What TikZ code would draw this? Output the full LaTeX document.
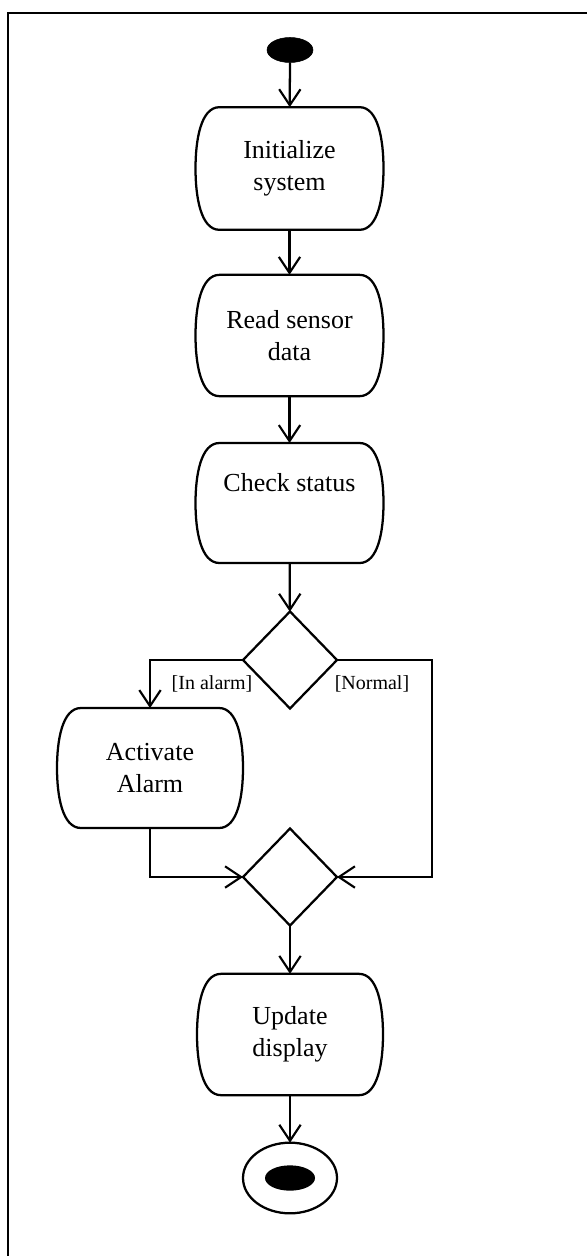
\documentclass[tikz,border=0pt]{standalone}
\usepackage{fontspec}
\setmainfont{Liberation Serif}
\usetikzlibrary{shapes.geometric,arrows.meta,calc}
\begin{document}
\begin{tikzpicture}[x=0.75pt,y=-0.75pt,
  lw/.style={line width=1.7pt},
  boxline/.style={lw, line join=round},
  actbox/.style={rectangle, draw=none, outer sep=0pt, inner sep=0pt, minimum width=141pt, minimum height=90pt, align=center, font=\fontsize{19.5}{24}\selectfont},
  decision/.style={diamond, draw, lw, inner sep=0pt, outer sep=0pt, minimum width=70.5pt, minimum height=72.75pt},
  flow/.style={lw, -{Straight Barb[length=12pt,width=16pt,line width=1.6pt]}},
  guard/.style={font=\fontsize{15}{18}\selectfont, inner sep=0pt}]
\useasboundingbox (0,0) rectangle (587,1256);
% frame
\draw[line width=1.8pt] (8,1256) -- (8,13) -- (587,13);
% nodes
\node[ellipse, fill=black, draw=black, inner sep=0pt, outer sep=0pt, minimum width=34.5pt, minimum height=18.75pt] (start) at (290,50) {};
\node[actbox, minimum height=92pt] (init) at (289.5,168.5) {Initialize\\system};
\node[actbox, minimum height=91pt] (read) at (289.5,335.5) {Read sensor\\data};
\node[actbox] (check) at (289.5,503) {Check status\\\strut};
\node[decision] (d1) at (290,660) {};
\node[actbox, minimum width=139.5pt] (act) at (150,768) {Activate\\Alarm};
\node[decision] (d2) at (290,877) {};
\node[actbox, minimum width=139.5pt, minimum height=91pt] (upd) at (290,1034.5) {Update\\display};
\node[ellipse, draw, lw, inner sep=0pt, outer sep=0pt, minimum width=70.5pt, minimum height=53pt] (final) at (290,1178) {};
\node[ellipse, fill=black, inner sep=0pt, minimum width=37.5pt, minimum height=19pt] (finalin) at (290,1178) {};
\node[guard] (lin) at (212,684) {[In alarm]};
\node[guard] (lnorm) at (372,684) {[Normal]};
\coordinate (rc) at (432,877);
% box outlines
\foreach \n in {init,read,check,act,upd}{
  \draw[boxline] ($(\n.north west)+(24,0)$) -- ($(\n.north east)+(-24,0)$)
    .. controls ($(\n.north east)+(-5,0)$) and ($(\n.north east)!0.55!(\n.east)$) .. (\n.east)
    .. controls ($(\n.south east)!0.55!(\n.east)$) and ($(\n.south east)+(-5,0)$) .. ($(\n.south east)+(-24,0)$)
    -- ($(\n.south west)+(24,0)$)
    .. controls ($(\n.south west)+(5,0)$) and ($(\n.south west)!0.55!(\n.west)$) .. (\n.west)
    .. controls ($(\n.north west)!0.55!(\n.west)$) and ($(\n.north west)+(5,0)$) .. cycle;
}
% connectors
\draw[flow] (start) -- (init);
\draw[flow] (init) -- (read);
\draw[flow] (read) -- (check);
\draw[flow] (check) -- (d1);
\draw[flow] (d1.west) -| (act.north);
\draw[flow] (d1.east) -| (rc) -- (d2.east);
\draw[flow] (act.south) |- (d2.west);
\draw[flow] (d2) -- (upd);
\draw[flow] (upd) -- (final);
\end{tikzpicture}
\end{document}
